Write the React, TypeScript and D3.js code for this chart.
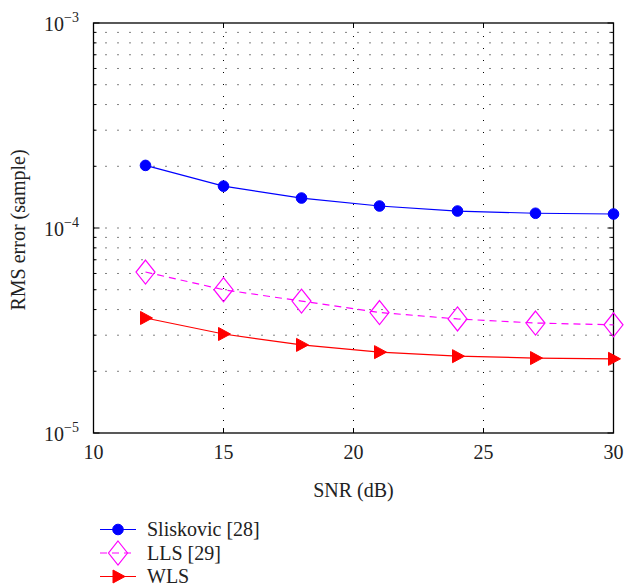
import React from "react";
import * as d3 from "d3";

const snr = [12, 15, 18, 21, 24, 27, 30];
const sliskovic = [2.02e-4, 1.6e-4, 1.4e-4, 1.28e-4, 1.21e-4, 1.18e-4, 1.17e-4];
const lls = [6.1e-5, 5.0e-5, 4.4e-5, 3.87e-5, 3.6e-5, 3.44e-5, 3.37e-5];
const wls = [3.64e-5, 3.04e-5, 2.69e-5, 2.48e-5, 2.37e-5, 2.32e-5, 2.3e-5];
const xTicks = [10, 15, 20, 25, 30];
const yMajor = [1e-5, 1e-4, 1e-3];
const yExp = ["−5", "−4", "−3"];
const seriesNames = ["Sliskovic [28]", "LLS [29]", "WLS"];

const L = 93.5, R = 613.5, T = 23, B = 433;
const FONT = "'Liberation Serif'";

export default function App() {
  const x = d3.scaleLinear().domain([10, 30]).range([L, R]);
  const y = d3.scaleLog().domain([1e-5, 1e-3]).range([B, T]);
  const minors: number[] = [];
  for (const m of [1e-5, 1e-4]) for (let k = 2; k <= 9; k++) minors.push(m * k);
  const line = d3.line<[number, number]>().x(d => x(d[0])).y(d => y(d[1]));
  const pts = (vals: number[]) => snr.map((s, i) => [s, vals[i]] as [number, number]);

  const circle = (cx: number, cy: number, k: string | number) => (
    <circle key={k} cx={cx} cy={cy} r={5.3} fill="#0000ff" stroke="#0000ff" />
  );
  const diamond = (cx: number, cy: number, k: string | number) => (
    <path key={k} d={`M${cx},${cy - 12}L${cx + 9.5},${cy}L${cx},${cy + 12}L${cx - 9.5},${cy}Z`} fill="none" stroke="#ff00ff" strokeWidth={1.2} />
  );
  const tri = (cx: number, cy: number, k: string | number) => (
    <path key={k} d={`M${cx - 5},${cy - 6.5}L${cx + 7},${cy}L${cx - 5},${cy + 6.5}Z`} fill="#ff0000" stroke="#ff0000" />
  );

  return (
    <svg width={626} height={587} style={{ position: "absolute", left: 0, top: 0, background: "#fff" }}>
      <rect width={626} height={587} fill="#fff" />
      {/* grid */}
      <g stroke="#000" strokeWidth={1} strokeDasharray="1,11" fill="none">
        {xTicks.slice(1, -1).map(t => (
          <line key={"gx" + t} x1={x(t)} x2={x(t)} y1={B} y2={T} />
        ))}
        {[...minors, 1e-4].map((v, i) => (
          <line key={"gy" + i} x1={L} x2={R} y1={y(v)} y2={y(v)} />
        ))}
      </g>
      {/* ticks */}
      <g stroke="#000" strokeWidth={1}>
        {xTicks.map(t => (
          <g key={"xt" + t}>
            <line x1={x(t)} x2={x(t)} y1={B} y2={B - 5} />
            <line x1={x(t)} x2={x(t)} y1={T} y2={T + 5} />
          </g>
        ))}
        {minors.map((v, i) => (
          <g key={"ym" + i}>
            <line x1={L} x2={L + 3} y1={y(v)} y2={y(v)} />
            <line x1={R} x2={R - 3} y1={y(v)} y2={y(v)} />
          </g>
        ))}
        {yMajor.map((v, i) => (
          <g key={"yM" + i}>
            <line x1={L} x2={L + 6} y1={y(v)} y2={y(v)} />
            <line x1={R} x2={R - 6} y1={y(v)} y2={y(v)} />
          </g>
        ))}
      </g>
      <rect x={L} y={T} width={R - L} height={B - T} fill="none" stroke="#000" strokeWidth={1.3} />
      {/* tick labels */}
      <g fontSize={20} fill="#222" fontFamily={FONT}>
        {xTicks.map(t => (
          <text key={"xl" + t} x={x(t)} y={B + 26} textAnchor="middle">{t}</text>
        ))}
        {yMajor.map((v, i) => (
          <text key={"yl" + i} x={44} y={y(v) + 8}>
            10<tspan fontSize={14} dy={-9.5}>{yExp[i]}</tspan>
          </text>
        ))}
        <text x={(L + R) / 2} y={B + 64} textAnchor="middle">SNR (dB)</text>
        <text transform={`translate(25,230) rotate(-90)`} textAnchor="middle">RMS error (sample)</text>
      </g>
      {/* series */}
      <path d={line(pts(sliskovic)) || ""} fill="none" stroke="#0000ff" strokeWidth={1.2} />
      <path d={line(pts(lls)) || ""} fill="none" stroke="#ff00ff" strokeWidth={1.2} strokeDasharray="7,5" />
      <path d={line(pts(wls)) || ""} fill="none" stroke="#ff0000" strokeWidth={1.2} />
      {pts(sliskovic).map((p, i) => circle(x(p[0]), y(p[1]), "c" + i))}
      {pts(lls).map((p, i) => diamond(x(p[0]), y(p[1]), "d" + i))}
      {pts(wls).map((p, i) => tri(x(p[0]), y(p[1]), "t" + i))}
      {/* legend */}
      <g fontSize={20} fill="#222" fontFamily={FONT}>
        {seriesNames.map((n, i) => {
          const ly = 529.5 + i * 23.5;
          const cx = 118;
          const stroke = ["#0000ff", "#ff00ff", "#ff0000"][i];
          return (
            <g key={"lg" + i}>
              <line x1={100} x2={136} y1={ly} y2={ly} stroke={stroke} strokeWidth={1.2} strokeDasharray={i === 1 ? "7,5" : undefined} />
              {i === 0 ? circle(cx, ly, "lc") : i === 1 ? diamond(cx, ly, "ld") : tri(cx, ly, "lt")}
              <text x={147} y={ly + 6.5}>{n}</text>
            </g>
          );
        })}
      </g>
    </svg>
  );
}
